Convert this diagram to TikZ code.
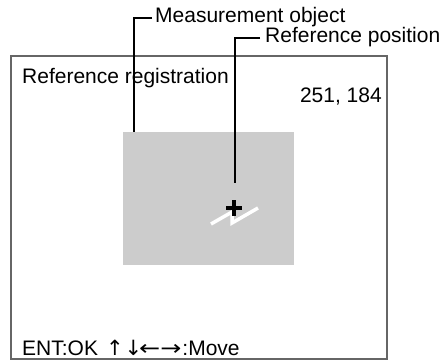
\documentclass[tikz,border=0pt]{standalone}
\usepackage{fontspec}
\setmainfont{Liberation Sans}
\newfontfamily\arrowfont{DejaVu Sans}
\begin{document}
\begin{tikzpicture}[x=1pt,y=-1pt,
  lbl/.style={inner sep=0pt,font=\fontsize{21}{25}\selectfont},
  leader/.style={line width=1.2pt,black},
  framebox/.style={draw=black!60,line width=2pt},
  target/.style={fill=black!20,draw=none}]
\useasboundingbox (0,0) rectangle (441,361);
\draw[framebox] (11,56) rectangle (387,359);
\fill[target] (123,132) rectangle (294,265);
% white mark
\draw[white,line width=3.5pt,line join=miter] (211,224) -- (232,212) -- (232,223) -- (258,208);
% plus
\draw[black,line width=3.2pt] (226,208) -- (242,208);
\draw[black,line width=3.2pt] (234,200) -- (234,216);
% texts
\node[lbl,anchor=base west] (title) at (22,83) {Reference registration};
\node[lbl,anchor=base east] (coord) at (382,102) {251, 184};
\node[lbl,anchor=base west] (mo) at (155,23) {Measurement object};
\node[lbl,anchor=base west] (rp) at (265,42) {Reference position};
\node[lbl,anchor=base west] (help) at (22,355) {ENT:OK\hspace{8pt}{\arrowfont ↑\hspace{1pt}↓\hspace{-3pt}\scalebox{1.2}[1]{←}\scalebox{1.2}[1]{→}}\hspace{1pt}:Move};
% leaders
\coordinate (moend) at (134,132);
\coordinate (rpend) at (235,183);
\draw[leader] ([xshift=-3pt,yshift=5pt]mo.base west) -| (moend);
\draw[leader] ([xshift=-5pt,yshift=4pt]rp.base west) -| (rpend);
\end{tikzpicture}
\end{document}
